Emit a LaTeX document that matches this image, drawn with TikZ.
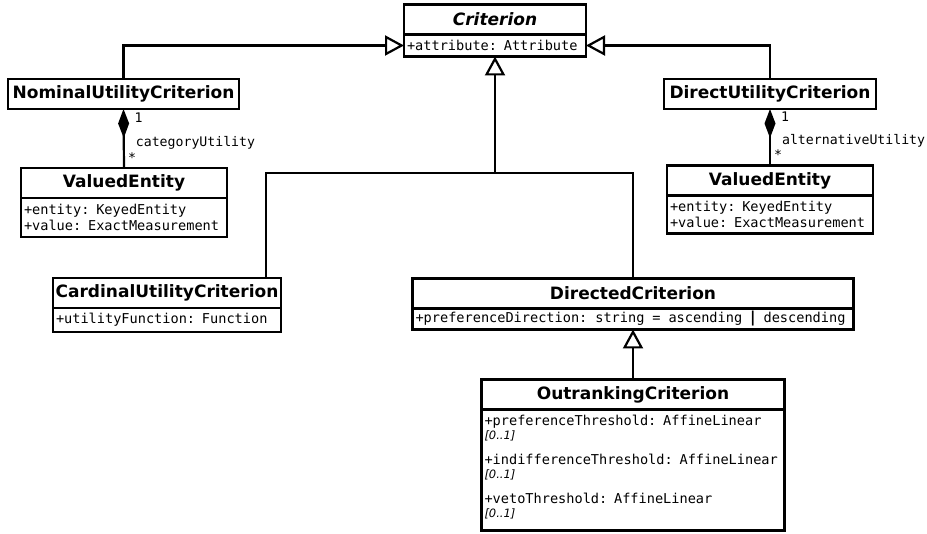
\documentclass[tikz,border=0pt]{standalone}
\usepackage{fontspec}
\usepackage{tikz}
\usetikzlibrary{arrows.meta,positioning,calc}
\newfontfamily\titlefont{DejaVu Sans}
\newfontfamily\attrfont{DejaVu Sans Mono}
\newcommand{\monospaces}{\spaceskip=0.602em\xspaceskip=0.602em\relax}
\newcommand{\clsfont}{\titlefont\bfseries\fontsize{17}{19}\selectfont}
\newcommand{\attfont}{\attrfont\fontsize{13.6}{16.5}\selectfont\monospaces}
\newcommand{\outfont}{\attrfont\fontsize{13.6}{13.5}\selectfont\monospaces}
\newcommand{\multfont}{\titlefont\itshape\fontsize{11.5}{14}\selectfont}
\tikzset{
  classbox/.style={draw,line width=2.2pt,font=\clsfont,minimum height=30pt,inner sep=0pt,outer sep=0pt},
  attrbox/.style={draw,line width=2.2pt,font=\attfont,align=left,inner xsep=3pt,inner ysep=0pt,outer sep=0pt},
  assoc/.style={line width=2.2pt},
  inherit/.style={line width=2.2pt,-{Triangle[open,width=20pt,length=19pt]}},
  compose/.style={line width=2.2pt,-{Diamond[width=11pt,length=29pt]}},
  role/.style={font=\attrfont\fontsize{13.2}{16}\selectfont,anchor=west,inner sep=0pt}
}
\begin{document}
\begin{tikzpicture}[x=1pt,y=-1pt]
\useasboundingbox (0,0) rectangle (927,534);
\node[classbox,minimum width=182pt,font=\titlefont\bfseries\itshape\fontsize{17}{19}\selectfont] (crit) at (495,19.5) {Criterion};
\node[attrbox,text width=176pt,minimum height=22pt,below=0pt of crit] (critA) {+attribute: Attribute};

\node[classbox,minimum width=231pt] (nom) at (123.5,94) {NominalUtilityCriterion};
\node[classbox,minimum width=206pt] (valL) at (124,183) {ValuedEntity};
\node[attrbox,text width=200pt,minimum height=39pt,below=0pt of valL] (valLA) {+entity: KeyedEntity\\+value: ExactMeasurement};

\node[classbox,minimum width=212pt] (dir) at (770,94) {DirectUtilityCriterion};
\node[classbox,minimum width=206pt] (valR) at (770,180.5) {ValuedEntity};
\node[attrbox,text width=200pt,minimum height=38pt,below=0pt of valR] (valRA) {+entity: KeyedEntity\\+value: ExactMeasurement};

\node[classbox,minimum width=228pt] (card) at (167,293) {CardinalUtilityCriterion};
\node[attrbox,text width=222pt,minimum height=24pt,below=0pt of card] (cardA) {+utilityFunction: Function};

\node[classbox,minimum width=441pt] (dirc) at (633,293.5) {DirectedCriterion};
\node[attrbox,text width=435pt,minimum height=21pt,below=0pt of dirc] (dircA)
  {\hbox to 430pt{+preferenceDirection:\hfil string\hfil =\hfil ascending\hfil {\titlefont\bfseries\fontsize{15}{16}\selectfont |}\hfil descending}};

\node[classbox,minimum width=303pt] (outr) at (633,394.5) {OutrankingCriterion};
\node[attrbox,text width=297pt,minimum height=121pt,font=\outfont,below=0pt of outr] (outrA)
  {+preferenceThreshold: AffineLinear\\{\multfont [0..1]}\\[12pt]
   +indifferenceThreshold: AffineLinear\\{\multfont [0..1]}\\[12pt]
   +vetoThreshold: AffineLinear\\{\multfont [0..1]}\\[-6pt]\mbox{}};

\coordinate (bus) at (495,173);
\draw[inherit] (nom.north) |- (critA.west);
\draw[inherit] (dir.north) |- (critA.east);
\draw[assoc] ([xshift=99pt]card.north) |- (bus) -| (dirc.north);
\draw[inherit] (bus) -- (critA.south);
\draw[inherit] (outr.north) -- (dircA.south);

\draw[compose] (valL.north) -- node[role,pos=0.17,xshift=3pt] (starL) {*}
  node[role,pos=0.42,xshift=11pt] (roleL) {categoryUtility}
  node[role,pos=0.85,xshift=10pt] (oneL) {1} (nom.south);
\draw[compose] (valR.north) -- node[role,pos=0.19,xshift=3pt] (starR) {*}
  node[role,pos=0.44,xshift=11pt] (roleR) {alternativeUtility}
  node[role,pos=0.86,xshift=10pt] (oneR) {1} (dir.south);
\end{tikzpicture}
\end{document}
